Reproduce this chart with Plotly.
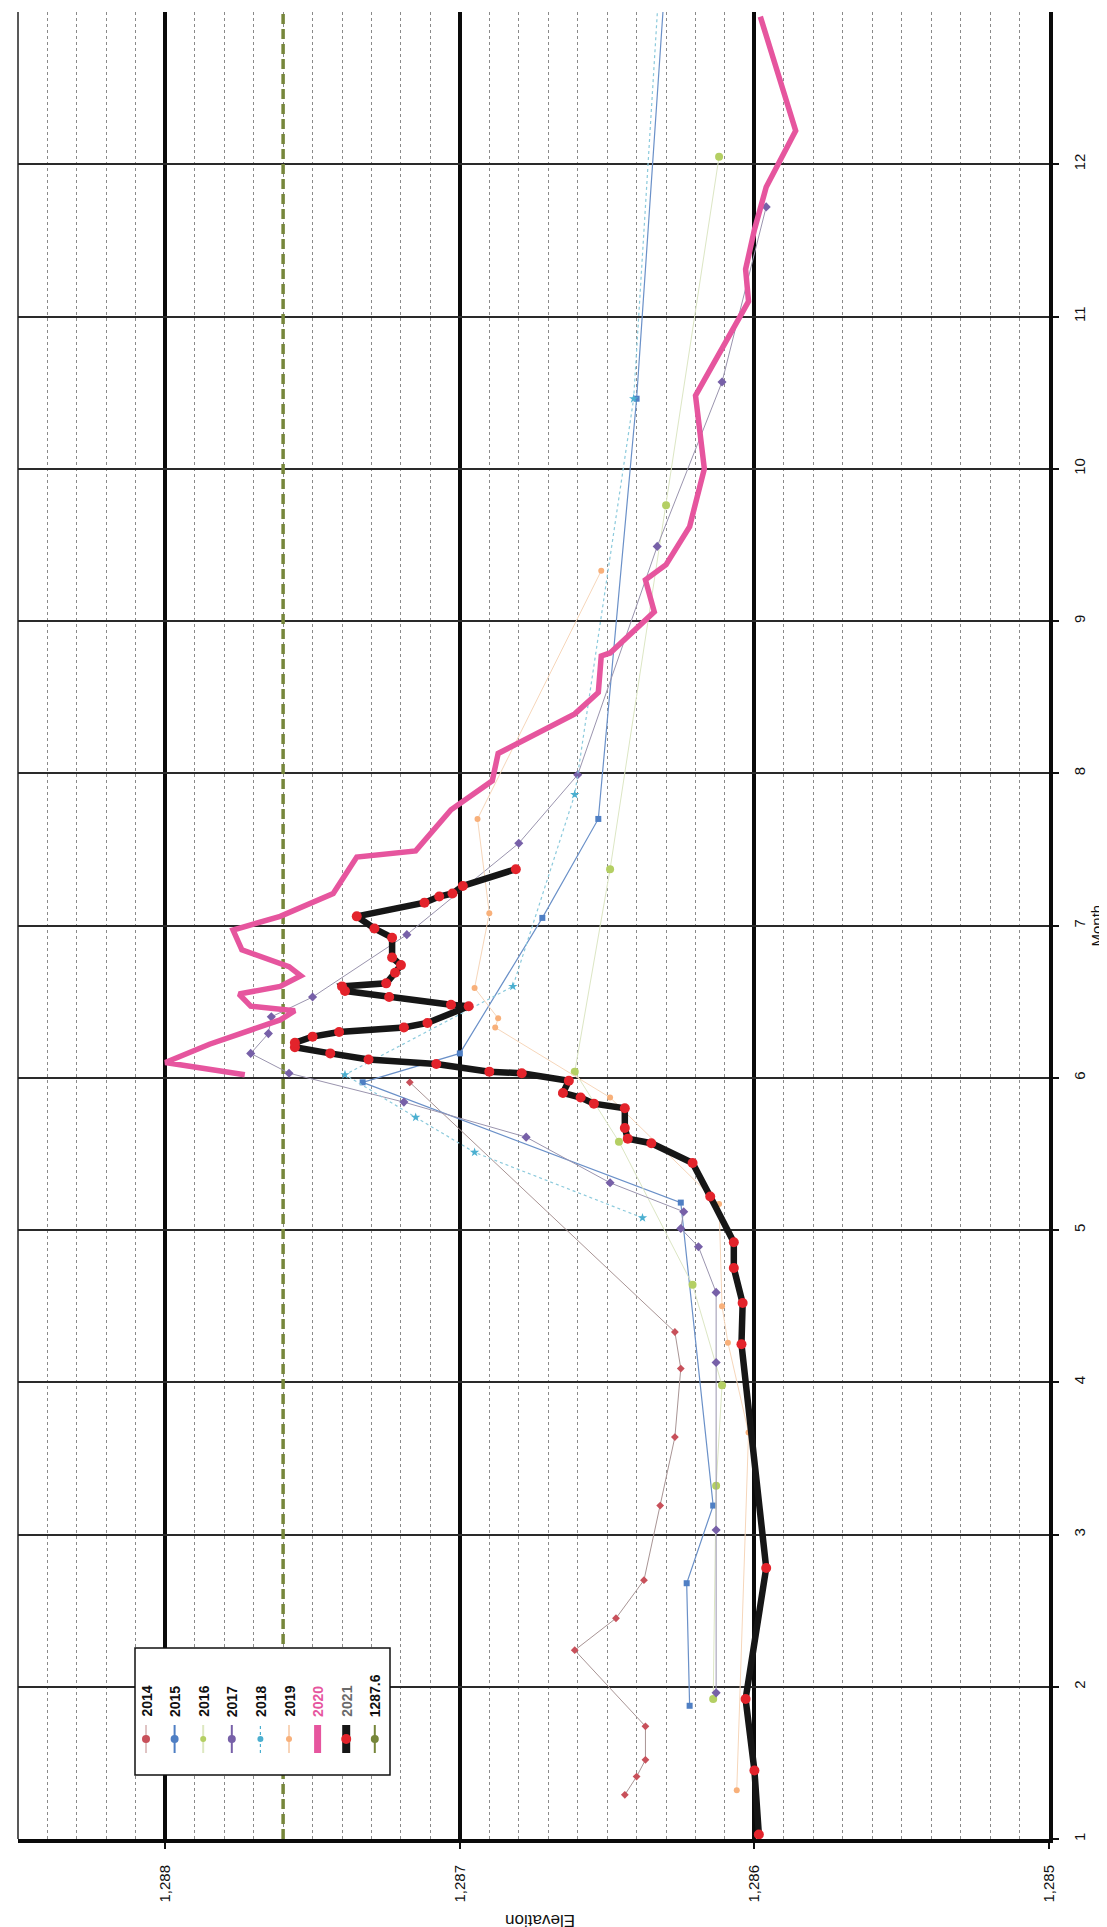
import plotly.graph_objects as go

# ---------------- data (month as decimal, elevation) ----------------
m2014 = [1.29, 1.41, 1.52, 1.74, 2.24, 2.45, 2.70, 3.19, 3.64, 4.09, 4.33, 5.97]
e2014 = [1286.44, 1286.40, 1286.37, 1286.37, 1286.61, 1286.47, 1286.375, 1286.32, 1286.27, 1286.25, 1286.27, 1287.17]

m2015 = [1.875, 2.68, 3.19, 5.18, 5.97, 6.16, 7.05, 7.70, 10.46, 13.3]
e2015 = [1286.22, 1286.23, 1286.14, 1286.25, 1287.33, 1287.00, 1286.72, 1286.53, 1286.40, 1286.30]

m2016 = [1.92, 3.32, 3.98, 4.64, 5.58, 6.04, 7.37, 9.76, 12.05]
e2016 = [1286.14, 1286.13, 1286.11, 1286.21, 1286.46, 1286.61, 1286.49, 1286.30, 1286.12]

m2017 = [1.96, 3.03, 4.13, 4.59, 4.89, 5.01, 5.12, 5.31, 5.61, 5.84, 6.03, 6.16, 6.29, 6.40, 6.53,
         6.94, 7.54, 7.99, 9.49, 10.57, 11.72]
e2017 = [1286.13, 1286.13, 1286.13, 1286.13, 1286.19, 1286.25, 1286.24, 1286.49, 1286.775, 1287.19,
         1287.58, 1287.71, 1287.65, 1287.64, 1287.50, 1287.18, 1286.80, 1286.60, 1286.33, 1286.11, 1285.96]

m2018 = [5.08, 5.51, 5.74, 6.02, 6.60, 7.86, 10.46, 13.3]
e2018 = [1286.38, 1286.95, 1287.15, 1287.39, 1286.82, 1286.61, 1286.41, 1286.32]

m2019 = [1.32, 3.67, 4.26, 4.50, 5.17, 5.87, 6.33, 6.39, 6.59, 7.08, 7.70, 9.33]
e2019 = [1286.06, 1286.02, 1286.09, 1286.11, 1286.12, 1286.49, 1286.88, 1286.87, 1286.95, 1286.90, 1286.94, 1286.52]

m2020 = [6.02, 6.10, 6.22, 6.38, 6.44, 6.47, 6.55, 6.60, 6.67, 6.73, 6.84, 6.97, 7.06, 7.21, 7.45, 7.49,
         7.76, 7.95, 8.13, 8.39, 8.53, 8.77, 8.79, 9.06, 9.27, 9.37, 9.62, 10.0, 10.48, 11.02, 11.10,
         11.31, 11.57, 11.85, 12.22, 12.97]
e2020 = [1287.73, 1288.00, 1287.85, 1287.61, 1287.56, 1287.71, 1287.75, 1287.61, 1287.54, 1287.58,
         1287.74, 1287.77, 1287.61, 1287.43, 1287.35, 1287.15, 1287.03, 1286.89, 1286.87, 1286.61,
         1286.53, 1286.52, 1286.49, 1286.34, 1286.37, 1286.30, 1286.22, 1286.17, 1286.20, 1286.04,
         1286.02, 1286.03, 1286.00, 1285.96, 1285.86, 1285.98]

m2021 = [1.03, 1.45, 1.92, 2.78, 4.25, 4.52, 4.75, 4.92, 5.22, 5.44, 5.57, 5.60, 5.67, 5.80, 5.83, 5.87,
         5.90, 5.98, 6.03, 6.04, 6.09, 6.12, 6.16, 6.20, 6.23, 6.27, 6.30, 6.33, 6.36, 6.47, 6.48, 6.53,
         6.57, 6.60, 6.62, 6.69, 6.74, 6.79, 6.92, 6.98, 7.06, 7.15, 7.19, 7.21, 7.26, 7.37]
e2021 = [1285.985, 1286.00, 1286.03, 1285.96, 1286.044, 1286.04, 1286.07, 1286.07, 1286.15, 1286.21,
         1286.35, 1286.43, 1286.44, 1286.44, 1286.545, 1286.59, 1286.65, 1286.63, 1286.79, 1286.90,
         1287.08, 1287.31, 1287.44, 1287.56, 1287.56, 1287.50, 1287.41, 1287.19, 1287.11, 1286.97,
         1287.03, 1287.24, 1287.39, 1287.40, 1287.25, 1287.22, 1287.20, 1287.23, 1287.23, 1287.29,
         1287.35, 1287.12, 1287.07, 1287.025, 1286.99, 1286.81]

m_ref = [1, 13]
e_ref = [1287.6, 1287.6]

elev_ticks = [1285, 1286, 1287, 1288]
elev_labels = ["1,285", "1,286", "1,287", "1,288"]
month_ticks = [1, 2, 3, 4, 5, 6, 7, 8, 9, 10, 11, 12]
legend_names = ["2014", "2015", "2016", "2017", "2018", "2019", "2020", "2021", "1287.6"]

# ---------------- styles ----------------
W, H = 1107, 1927
ML, MR, MT, MB = 10, 66, 4, 96
PW, PH = W - ML - MR, H - MT - MB
FONT = "Liberation Sans, Arial, sans-serif"


def px_x(px):
    return (px - ML) / PW


def px_y(py):
    return (H - MB - py) / PH


styles = {
    "2014": dict(lc="#A89494", lw=1, ld="solid", mc="#C8505A", ms=6, sym="diamond"),
    "2015": dict(lc="#6A90C8", lw=1.2, ld="solid", mc="#4F7FC4", ms=6, sym="square"),
    "2016": dict(lc="#DCE6C4", lw=1, ld="solid", mc="#B4CF63", ms=8, sym="circle"),
    "2017": dict(lc="#9A94AE", lw=1, ld="solid", mc="#7760A8", ms=7, sym="diamond"),
    "2018": dict(lc="#8CCADC", lw=1.2, ld="dot", mc="#4BAFD0", ms=7, sym="star"),
    "2019": dict(lc="#F6D6BA", lw=1, ld="solid", mc="#F8B07A", ms=6, sym="circle"),
}

fig = go.Figure()

series = [("2014", m2014, e2014), ("2015", m2015, e2015), ("2016", m2016, e2016),
          ("2017", m2017, e2017), ("2018", m2018, e2018), ("2019", m2019, e2019)]

fig.add_trace(go.Scatter(x=e_ref, y=m_ref, mode="lines", name="1287.6",
                         line=dict(color="#76863A", width=3.5, dash="10px,5px"), showlegend=False))

for name, m, e in series:
    s = styles[name]
    fig.add_trace(go.Scatter(x=e, y=m, mode="lines+markers", name=name, showlegend=False,
                             line=dict(color=s["lc"], width=s["lw"], dash=s["ld"]),
                             marker=dict(color=s["mc"], size=s["ms"], symbol=s["sym"])))

fig.add_trace(go.Scatter(x=e2020, y=m2020, mode="lines", name="2020", showlegend=False,
                         line=dict(color="#E6559E", width=5.5)))
fig.add_trace(go.Scatter(x=e2021, y=m2021, mode="lines+markers", name="2021", showlegend=False,
                         line=dict(color="#161616", width=6.5),
                         marker=dict(color="#E3232B", size=10, symbol="circle")))

shapes = []
annotations = []

# left border
shapes.append(dict(type="line", xref="paper", yref="paper", x0=0, x1=0, y0=0, y1=1,
                   line=dict(color="#222", width=1.5)))

# manual legend (rotated like the scan)
bx0, bx1, by0, by1 = 127, 382, 1640, 1767
shapes.append(dict(type="rect", xref="paper", yref="paper",
                   x0=px_x(bx0), x1=px_x(bx1), y0=px_y(by1), y1=px_y(by0),
                   fillcolor="white", line=dict(color="#111", width=1.5), layer="above"))

leg_line = {
    "2014": ("#C08888", 1, "solid", "#C8505A", 4),
    "2015": ("#4F7FC4", 2, "solid", "#4F7FC4", 4),
    "2016": ("#DDE8C0", 2, "solid", "#B4CF63", 3),
    "2017": ("#7760A8", 2, "solid", "#7760A8", 4),
    "2018": ("#4BAFD0", 1.2, "dot", "#4BAFD0", 3),
    "2019": ("#F8D4B8", 2, "solid", "#F8B07A", 3),
    "2020": ("#E6559E", 7, "solid", None, 0),
    "2021": ("#161616", 8, "solid", "#E3232B", 5),
    "1287.6": ("#76863A", 2, "solid", "#76863A", 4),
}

for i, name in enumerate(legend_names):
    cx = 138 + 28.6 * i
    lc, lw, ld, mc, mr = leg_line[name]
    shapes.append(dict(type="line", xref="paper", yref="paper",
                       x0=px_x(cx), x1=px_x(cx), y0=px_y(1745), y1=px_y(1717),
                       line=dict(color=lc, width=lw, dash=ld), layer="above"))
    if mc:
        shapes.append(dict(type="circle", xref="paper", yref="paper",
                           x0=px_x(cx - mr), x1=px_x(cx + mr),
                           y0=px_y(1731 + mr), y1=px_y(1731 - mr),
                           fillcolor=mc, line=dict(color=mc, width=0), layer="above"))
    tcol = "#E6559E" if name == "2020" else ("#6a6a6a" if name == "2021" else "#111")
    annotations.append(dict(xref="paper", yref="paper", x=px_x(cx), y=px_y(1711),
                            text="<b>" + name + "</b>", textangle=-90, showarrow=False,
                            xanchor="center", yanchor="bottom",
                            font=dict(family=FONT, size=14, color=tcol)))

# axis titles (rotated)
annotations.append(dict(xref="paper", yref="paper", x=px_x(532), y=px_y(1913),
                        text="Elevation", textangle=180, showarrow=False,
                        xanchor="center", yanchor="middle",
                        font=dict(family=FONT, size=17, color="#111")))
annotations.append(dict(xref="paper", yref="paper", x=px_x(1088), y=0.5,
                        text="Month", textangle=-90, showarrow=False,
                        xanchor="center", yanchor="middle",
                        font=dict(family=FONT, size=15, color="#111")))

fig.update_layout(
    width=W, height=H,
    margin=dict(l=ML, r=MR, t=MT, b=MB),
    paper_bgcolor="white", plot_bgcolor="white",
    showlegend=False,
    shapes=shapes, annotations=annotations,
    font=dict(family=FONT, color="#111"),
    xaxis=dict(range=[1288.5, 1285], tickvals=elev_ticks, ticktext=elev_labels,
               tickangle=-90, tickfont=dict(size=15, color="#111"),
               showgrid=True, gridcolor="#0a0a0a", gridwidth=4,
               minor=dict(dtick=0.1, showgrid=True, gridcolor="#8a8a8a", griddash="3px,3px", gridwidth=1.2),
               showline=True, linecolor="#0a0a0a", linewidth=4,
               ticks="outside", ticklen=6, tickcolor="#111", tickwidth=1.5,
               ticklabelstandoff=10, zeroline=False),
    yaxis=dict(range=[1, 13], tickvals=month_ticks, side="right",
               tickangle=-90, tickfont=dict(size=15, color="#111"),
               showgrid=True, gridcolor="#2a2a2a", gridwidth=1.6,
               showline=True, linecolor="#0a0a0a", linewidth=4,
               ticks="outside", ticklen=6, tickcolor="#111", tickwidth=1.5,
               ticklabelstandoff=8, zeroline=False),
)

fig.write_html("out.html")
